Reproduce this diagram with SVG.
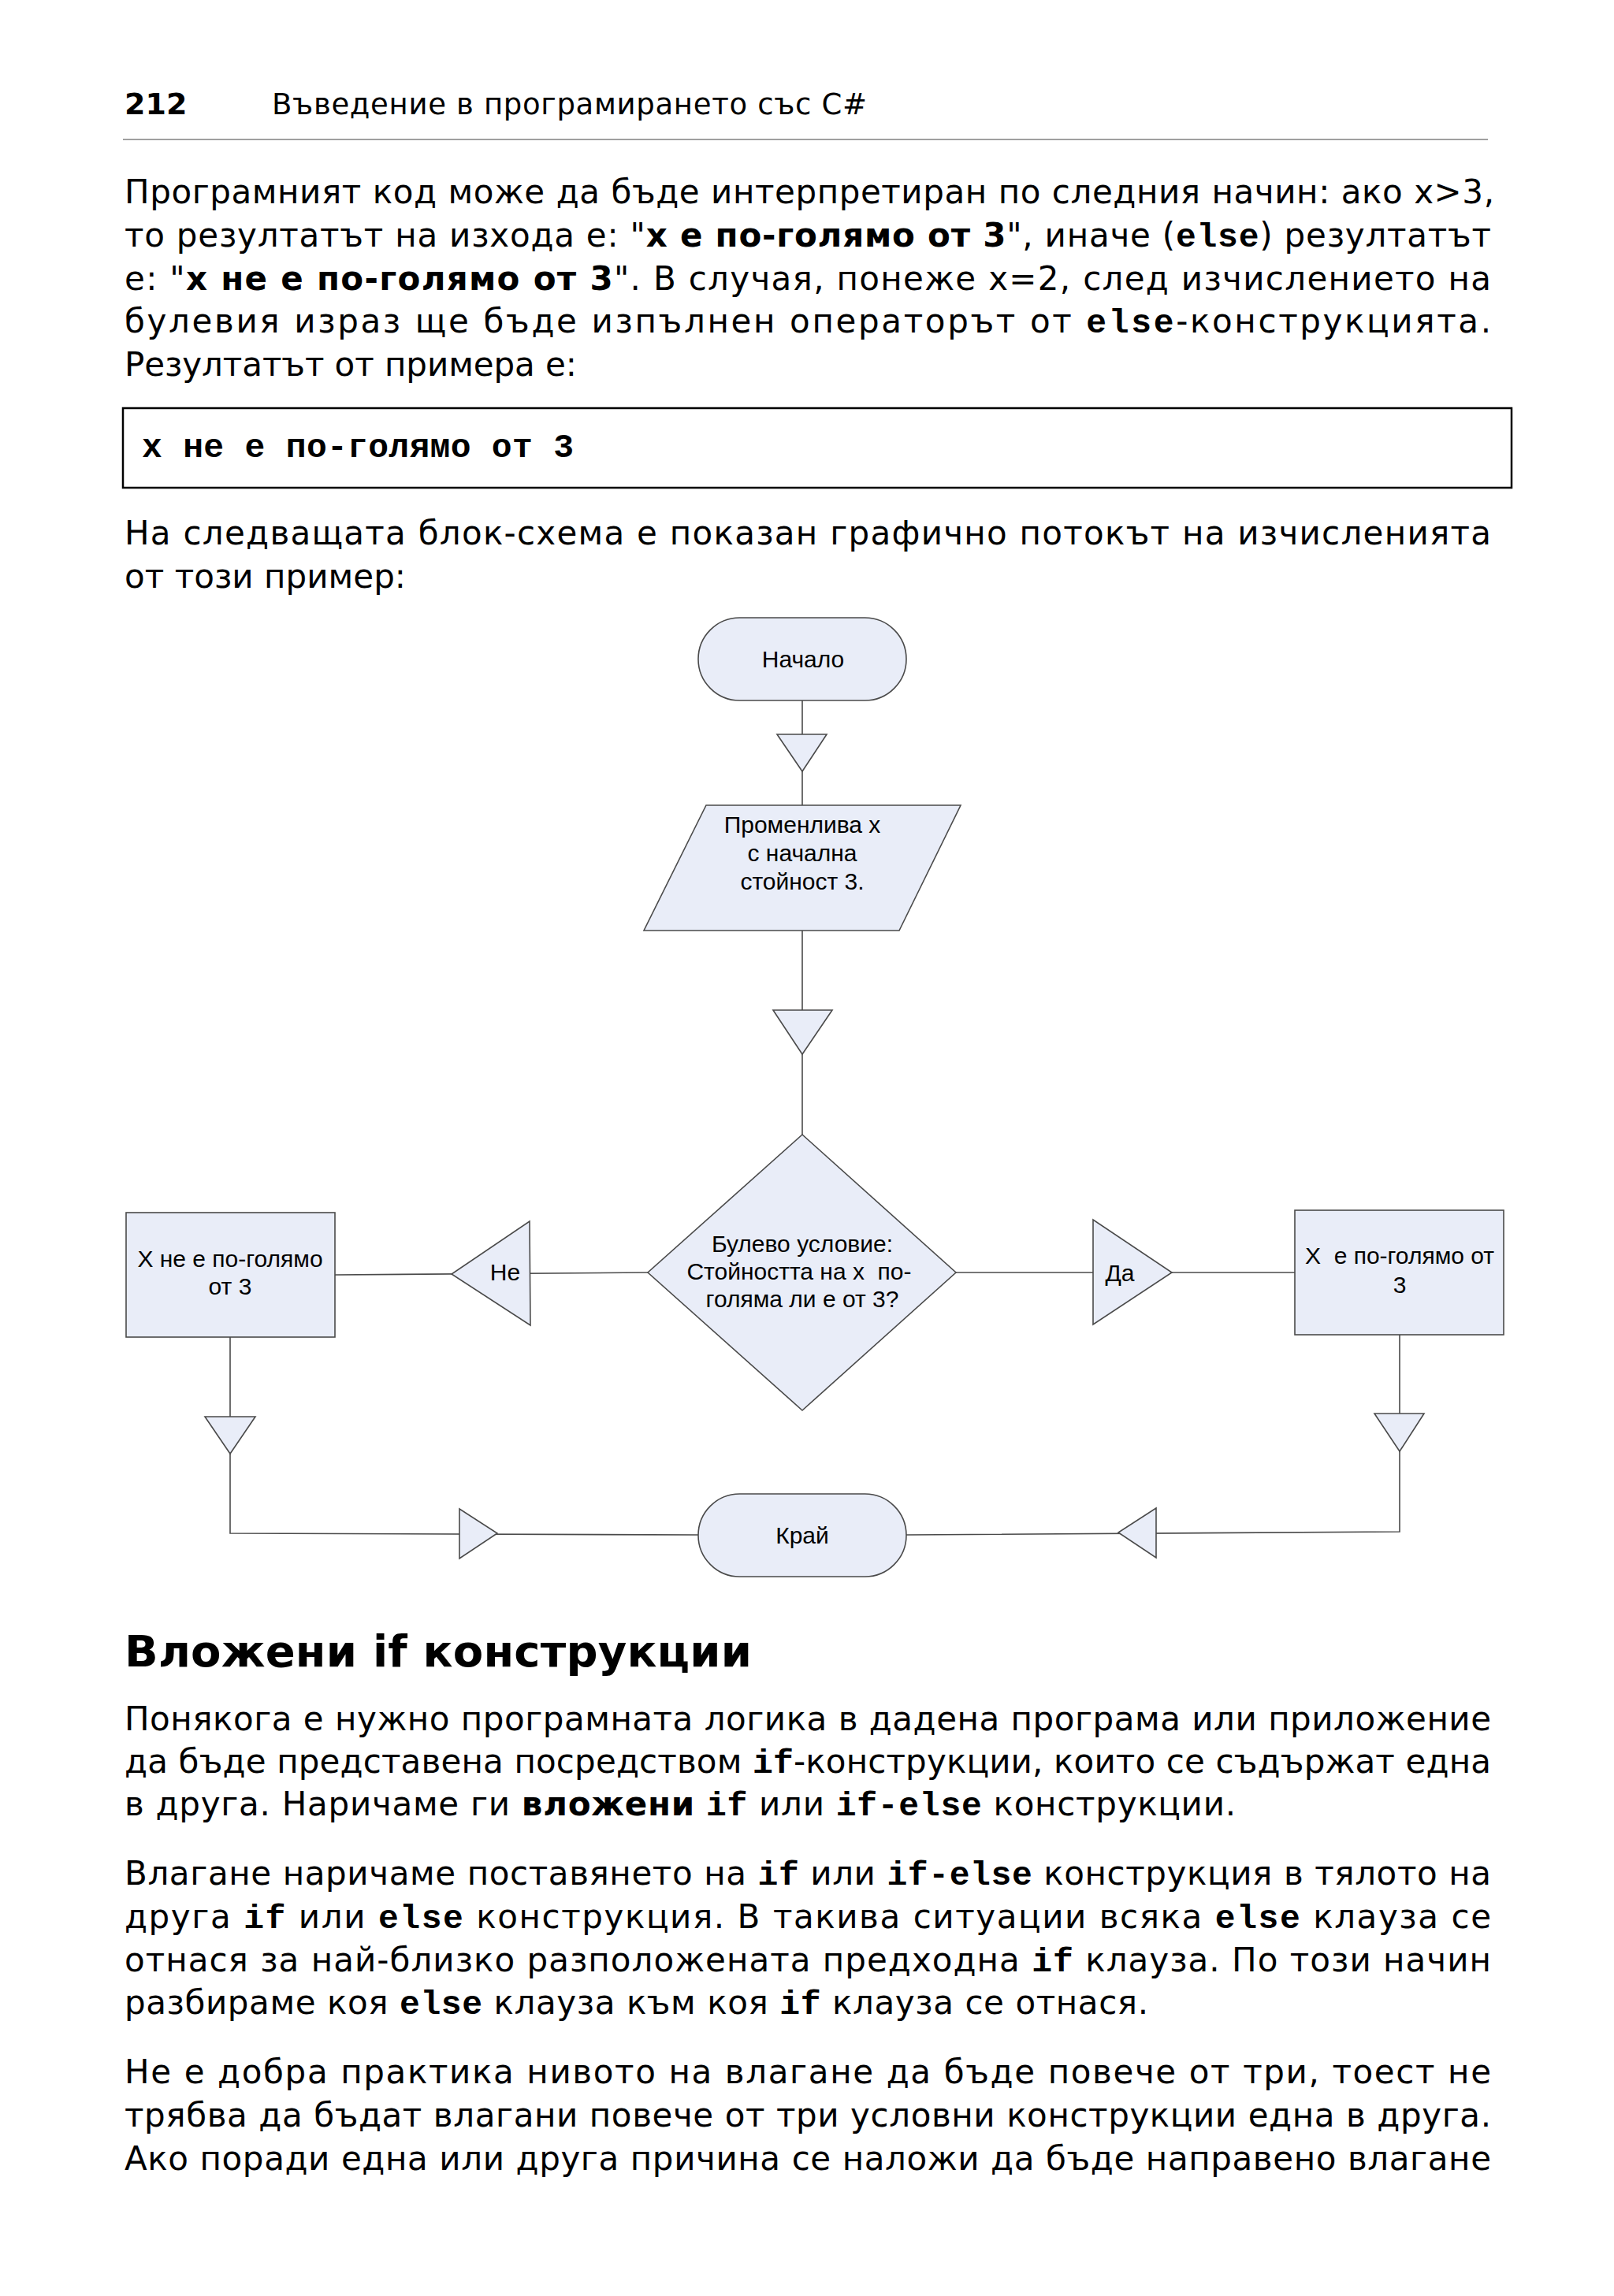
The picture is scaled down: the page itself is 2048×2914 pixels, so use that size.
<svg xmlns="http://www.w3.org/2000/svg" width="2048" height="2914" viewBox="0 0 2048 2914">
<style>
.b{font-family:"DejaVu Sans",Verdana,sans-serif;font-size:42px;fill:#000}
.bb{font-weight:bold}
.m{font-family:"Liberation Mono","Courier New",monospace;font-weight:bold;font-size:43px}
.f{font-family:"Liberation Sans",Arial,sans-serif;font-size:30px;fill:#000;text-anchor:middle}
.shape{fill:#E9EDF8;stroke:#4a4a4a;stroke-width:1.6}
.conn{fill:none;stroke:#4a4a4a;stroke-width:1.6}
.arrow{fill:#E9EDF8;stroke:#4a4a4a;stroke-width:1.6}
</style>
<rect width="2048" height="2914" fill="#fff"/>

<g id="header">
<text class="b bb" x="158" y="145" style="font-size:38px">212</text>
<text class="b" x="345" y="145" style="font-size:37px" textLength="755" lengthAdjust="spacing">Въведение в програмирането със C#</text>
<line x1="156" y1="177" x2="1888" y2="177" stroke="#a0a0a0" stroke-width="2"/>
</g>

<g id="para1">
<text class="b" x="158" y="258" textLength="1738" lengthAdjust="spacing">Програмният код може да бъде интерпретиран по следния начин: ако x&gt;3,</text>
<text class="b" x="158" y="313" textLength="1734" lengthAdjust="spacing">то резултатът на изхода е: "<tspan class="bb">x е по-голямо от 3</tspan>", иначе (<tspan class="m">else</tspan>) резултатът</text>
<text class="b" x="158" y="368" textLength="1734" lengthAdjust="spacing">е: "<tspan class="bb">x не е по-голямо от 3</tspan>". В случая, понеже x=2, след изчислението на</text>
<text class="b" x="158" y="422" textLength="1734" lengthAdjust="spacing">булевия израз ще бъде изпълнен операторът от <tspan class="m">else</tspan>-конструкцията.</text>
<text class="b" x="158" y="477" textLength="574" lengthAdjust="spacing">Резултатът от примера е:</text>
</g>

<g id="code-box">
<rect x="156" y="518" width="1762" height="101" fill="#fff" stroke="#000" stroke-width="2.5"/>
<text class="m" x="180" y="580" textLength="548" lengthAdjust="spacing">x не е по-голямо от 3</text>
</g>

<g id="para2">
<text class="b" x="158" y="691" textLength="1734" lengthAdjust="spacing">На следващата блок-схема е показан графично потокът на изчисленията</text>
<text class="b" x="158" y="746" textLength="357" lengthAdjust="spacing">от този пример:</text>
</g>

<g id="connectors">
<line class="conn" x1="1018" y1="889" x2="1018" y2="1022"/>
<line class="conn" x1="1018" y1="1181" x2="1018" y2="1440"/>
<line class="conn" x1="822" y1="1615" x2="425" y2="1618"/>
<line class="conn" x1="1213" y1="1615" x2="1643" y2="1615"/>
<polyline class="conn" points="292,1697 292,1946 886,1948"/>
<polyline class="conn" points="1776,1694 1776,1944 1150,1948"/>
<polygon class="arrow" points="986,932 1049,932 1018,979"/>
<polygon class="arrow" points="981,1282 1056,1282 1018,1338"/>
<polygon class="arrow" points="260,1798 324,1798 292,1845"/>
<polygon class="arrow" points="1744,1794 1807,1794 1776,1842"/>
<polygon class="arrow" points="583,1915 583,1978 631,1946"/>
<polygon class="arrow" points="1467,1914 1467,1977 1419,1945"/>
</g>

<g id="start">
<rect class="shape" x="886" y="784" width="264" height="105" rx="52.5" ry="52.5"/>
<text class="f" x="1019" y="847">Начало</text>
</g>

<g id="input-x">
<polygon class="shape" points="896,1022 1219,1022 1141,1181 817,1181"/>
<text class="f" x="1018" y="1057">Променлива x</text>
<text class="f" x="1018" y="1093">с начална</text>
<text class="f" x="1018" y="1129">стойност 3.</text>
</g>

<g id="decision">
<polygon class="shape" points="1018,1440 1213,1615 1018,1790 822,1615"/>
<text class="f" x="1018" y="1589">Булево условие:</text>
<text class="f" x="1014" y="1624">Стойността на x&#160; по-</text>
<text class="f" x="1018" y="1659">голяма ли е от 3?</text>
</g>

<g id="label-no">
<polygon class="arrow" points="672,1550 673,1682 573,1617"/>
<text class="f" x="641" y="1625">Не</text>
</g>

<g id="label-yes">
<polygon class="arrow" points="1387,1548 1387,1681 1487,1615"/>
<text class="f" x="1421" y="1626">Да</text>
</g>

<g id="not-greater">
<rect class="shape" x="160" y="1539" width="265" height="158"/>
<text class="f" x="292" y="1608">Х не е по-голямо</text>
<text class="f" x="292" y="1643">от 3</text>
</g>

<g id="greater">
<rect class="shape" x="1643" y="1536" width="265" height="158"/>
<text class="f" x="1776" y="1604">X&#160; е по-голямо от</text>
<text class="f" x="1776" y="1641">3</text>
</g>

<g id="end">
<rect class="shape" x="886" y="1896" width="264" height="105" rx="52.5" ry="52.5"/>
<text class="f" x="1018" y="1959">Край</text>
</g>

<g id="heading">
<text class="b bb" x="158" y="2115" style="font-size:56px" textLength="796" lengthAdjust="spacing">Вложени if конструкции</text>
</g>

<g id="para3">
<text class="b" x="158" y="2196" textLength="1734" lengthAdjust="spacing">Понякога е нужно програмната логика в дадена програма или приложение</text>
<text class="b" x="158" y="2250" textLength="1734" lengthAdjust="spacing">да бъде представена посредством <tspan class="m">if</tspan>-конструкции, които се съдържат една</text>
<text class="b" x="158" y="2304" textLength="1410" lengthAdjust="spacing">в друга. Наричаме ги <tspan class="bb">вложени</tspan> <tspan class="m">if</tspan> или <tspan class="m">if-else</tspan> конструкции.</text>
</g>

<g id="para4">
<text class="b" x="158" y="2392" textLength="1734" lengthAdjust="spacing">Влагане наричаме поставянето на <tspan class="m">if</tspan> или <tspan class="m">if-else</tspan> конструкция в тялото на</text>
<text class="b" x="158" y="2447" textLength="1734" lengthAdjust="spacing">друга <tspan class="m">if</tspan> или <tspan class="m">else</tspan> конструкция. В такива ситуации всяка <tspan class="m">else</tspan> клауза се</text>
<text class="b" x="158" y="2502" textLength="1734" lengthAdjust="spacing">отнася за най-близко разположената предходна <tspan class="m">if</tspan> клауза. По този начин</text>
<text class="b" x="158" y="2556" textLength="1299" lengthAdjust="spacing">разбираме коя <tspan class="m">else</tspan> клауза към коя <tspan class="m">if</tspan> клауза се отнася.</text>
</g>

<g id="para5">
<text class="b" x="158" y="2644" textLength="1734" lengthAdjust="spacing">Не е добра практика нивото на влагане да бъде повече от три, тоест не</text>
<text class="b" x="158" y="2699" textLength="1734" lengthAdjust="spacing">трябва да бъдат влагани повече от три условни конструкции една в друга.</text>
<text class="b" x="158" y="2754" textLength="1734" lengthAdjust="spacing">Ако поради една или друга причина се наложи да бъде направено влагане</text>
</g>
</svg>
